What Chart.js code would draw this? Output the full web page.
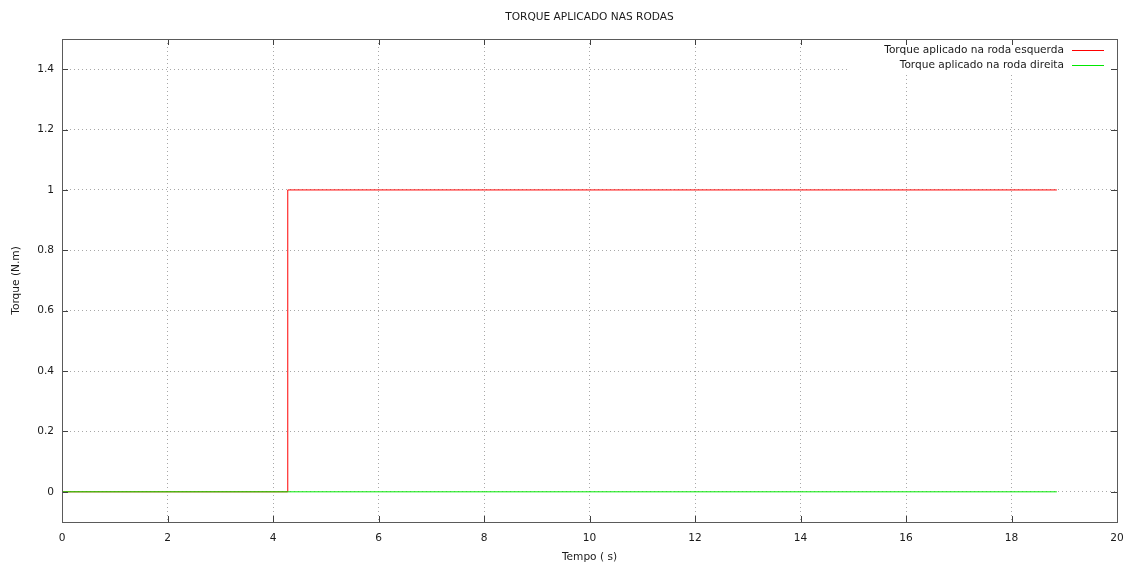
<!DOCTYPE html>
<html>
<head>
<meta charset="utf-8">
<script src="https://cdn.jsdelivr.net/npm/chart.js@4"></script>
<style>
  body { margin: 0; background: #fff; }
  #wrap { width: 1129px; height: 566px; }
</style>
</head>
<body>
<div id="wrap"><canvas id="torqueChart"></canvas></div>
<script>
// Dados
const tempo = [0, 4.28, 18.86];
const torqueEsquerda = [0, 1, 1];
const torqueDireita = [0, 0, 0];
const xTicks = [0, 2, 4, 6, 8, 10, 12, 14, 16, 18, 20];
const yTicks = [0, 0.2, 0.4, 0.6, 0.8, 1, 1.2, 1.4];
const legendas = ['Torque aplicado na roda esquerda', 'Torque aplicado na roda direita'];
const titulo = 'TORQUE APLICADO NAS RODAS';
const cores = ['#ff0000', '#00e800'];

const FONT = 'DejaVu Sans';
const FSIZE = 10.6;
const TEXT = '#1a1a1a';

function pontos(ys) {
    return tempo.map((t, i) => ({ x: t, y: ys[i] }));
}

// titulo, borda, ticks internos e legenda estilo gnuplot
const gnuplotFrame = {
    id: 'gnuplotFrame',
    afterDatasetsDraw(chart) {
        const { ctx, chartArea: a, scales } = chart;
        ctx.save();

        ctx.font = FSIZE + 'px "' + FONT + '"';
        ctx.fillStyle = TEXT;
        ctx.textAlign = 'center';
        ctx.textBaseline = 'middle';
        ctx.fillText(titulo, (a.left + a.right) / 2, 17);

        // caixa da legenda limpa a grade
        ctx.fillStyle = '#fff';
        ctx.fillRect(848, a.top + 2, a.right - 4 - 848, 34);

        ctx.textAlign = 'right';
        legendas.forEach((txt, i) => {
            const y = 50.5 + i * 15;
            ctx.fillStyle = TEXT;
            ctx.fillText(txt, 1064, y);
            ctx.strokeStyle = cores[i];
            ctx.lineWidth = 1;
            ctx.beginPath();
            ctx.moveTo(1072, y);
            ctx.lineTo(1104, y);
            ctx.stroke();
        });

        // ticks internos
        ctx.strokeStyle = '#404040';
        ctx.lineWidth = 1;
        ctx.beginPath();
        const len = 6;
        xTicks.forEach(v => {
            const x = Math.round(scales.x.getPixelForValue(v)) + 0.5;
            ctx.moveTo(x, a.bottom); ctx.lineTo(x, a.bottom - len);
            ctx.moveTo(x, a.top); ctx.lineTo(x, a.top + len);
        });
        yTicks.forEach(v => {
            const y = Math.round(scales.y.getPixelForValue(v)) + 0.5;
            ctx.moveTo(a.left, y); ctx.lineTo(a.left + len, y);
            ctx.moveTo(a.right, y); ctx.lineTo(a.right - len, y);
        });
        ctx.stroke();

        // borda
        ctx.strokeStyle = '#5a5a5a';
        ctx.strokeRect(Math.round(a.left) + 0.5, Math.round(a.top) + 0.5,
            Math.round(a.right - a.left), Math.round(a.bottom - a.top));
        ctx.restore();
    }
};

const ctx = document.getElementById('torqueChart').getContext('2d');
const chart = new Chart(ctx, {
    type: 'line',
    data: {
        datasets: [{
            label: legendas[0],
            data: pontos(torqueEsquerda),
            borderColor: cores[0],
            borderWidth: 1,
            pointRadius: 0,
            stepped: 'before',
            order: 1
        }, {
            label: legendas[1],
            data: pontos(torqueDireita),
            borderColor: cores[1],
            borderWidth: 1,
            pointRadius: 0,
            stepped: 'before',
            order: 0
        }]
    },
    options: {
        responsive: true,
        maintainAspectRatio: false,
        animation: false,
        layout: { padding: { left: 0, right: 12, top: 39, bottom: 0 } },
        plugins: {
            legend: { display: false },
            tooltip: { enabled: false },
            title: { display: false }
        },
        scales: {
            x: {
                type: 'linear',
                min: 0,
                max: 20,
                afterBuildTicks: s => { s.ticks = xTicks.map(v => ({ value: v })); },
                afterFit: s => { s.height = 44; s.paddingLeft = 0; s.paddingRight = 0; },
                grid: { color: '#a8a8a8', lineWidth: 1, drawTicks: false },
                border: { display: false, dash: [1, 3] },
                ticks: {
                    color: TEXT,
                    padding: 10,
                    maxRotation: 0,
                    font: { family: FONT, size: FSIZE },
                    callback: v => String(v)
                },
                title: {
                    display: true,
                    text: 'Tempo ( s)',
                    color: TEXT,
                    font: { family: FONT, size: FSIZE, lineHeight: 1.2 },
                    padding: { top: 0, bottom: 2 }
                }
            },
            y: {
                type: 'linear',
                min: -0.1,
                max: 1.5,
                afterBuildTicks: s => { s.ticks = yTicks.map(v => ({ value: v })); },
                afterFit: s => { s.width = 62; s.paddingTop = 0; s.paddingBottom = 0; },
                grid: { color: '#a8a8a8', lineWidth: 1, drawTicks: false },
                border: { display: false, dash: [1, 3] },
                ticks: {
                    color: TEXT,
                    padding: 8,
                    font: { family: FONT, size: FSIZE },
                    callback: v => String(Math.round(v * 10) / 10)
                },
                title: {
                    display: true,
                    text: 'Torque (N.m)',
                    color: TEXT,
                    font: { family: FONT, size: FSIZE, lineHeight: 1.2 },
                    padding: { top: 10, bottom: 0 }
                }
            }
        }
    },
    plugins: [gnuplotFrame]
});
</script>
</body>
</html>
